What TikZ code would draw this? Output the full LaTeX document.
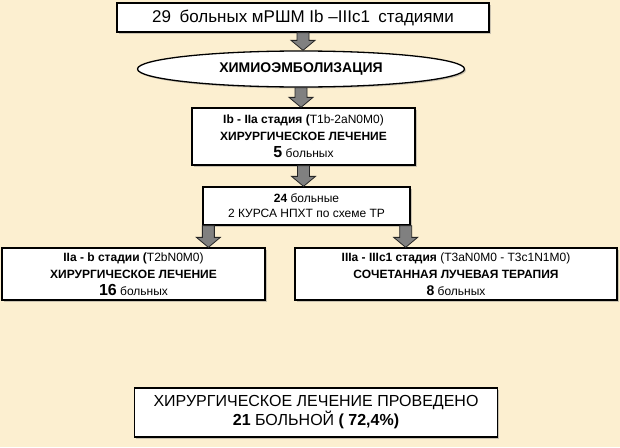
\documentclass[tikz,border=0pt]{standalone}
\usepackage{fontspec}
\setmainfont{Liberation Sans}
\usepackage{tikz}
\usetikzlibrary{calc,shapes.geometric,shadows}

\definecolor{paper}{RGB}{252,239,208}
\definecolor{arrgrey}{RGB}{128,128,128}

% block arrow going down from #1 to the level of #2
\newcommand\downarr[2]{%
  \draw[blockarr] let \p1=#1, \p2=#2 in
    (\x1-6pt,\y1) -- (\x1+6pt,\y1) -- (\x1+6pt,\y2+10pt) -- (\x1+12pt,\y2+10pt)
    -- (\x1,\y2) -- (\x1-12pt,\y2+10pt) -- (\x1-6pt,\y2+10pt) -- cycle;}

\begin{document}
\begin{tikzpicture}[x=1pt, y=-1pt,
  box/.style={draw, line width=1.3pt, fill=white, align=center, inner sep=0pt,
    drop shadow={shadow xshift=1.5pt, shadow yshift=-1.5pt, opacity=.4}},
  ell/.style={box, ellipse},
  blockarr/.style={draw=black!85, fill=arrgrey, line width=.8pt}]
\fill[paper] (0,0) rectangle (620,447);
\useasboundingbox (0,0) rectangle (620,447);

\node[box, minimum width=372pt, minimum height=29pt, font=\fontsize{17}{20}\selectfont]
  (start) at (303,17.5) {29\enspace больных мРШМ Ib –IIIc1\enspace стадиями};
\node[ell, minimum width=327pt, minimum height=36pt, font=\fontsize{14}{16}\selectfont\bfseries]
  (chemo) at (301,69) {ХИМИОЭМБОЛИЗАЦИЯ};
\node[box, minimum width=223pt, minimum height=57pt, font=\fontsize{12}{17}\selectfont]
  (stage1) at (303.5,136.5) {\textbf{Ib - IIa стадия (}T1b-2aN0M0)\\
  \textbf{ХИРУРГИЧЕСКОЕ ЛЕЧЕНИЕ}\\
  {\fontsize{16}{18}\selectfont\bfseries 5} больных};
\node[box, minimum width=207pt, minimum height=38pt, font=\fontsize{12}{15}\selectfont]
  (neo) at (306.5,206) {\textbf{24} больные\\2 КУРСА НПХТ по схеме ТР};
\node[box, minimum width=263pt, minimum height=52pt, font=\fontsize{12}{17}\selectfont]
  (surg) at (133.5,274) {\textbf{IIa - b стадии (}T2bN0M0)\\
  \textbf{ХИРУРГИЧЕСКОЕ ЛЕЧЕНИЕ}\\
  {\fontsize{16}{18}\selectfont\bfseries 16} больных};
\node[box, minimum width=322pt, minimum height=52pt, font=\fontsize{12}{17}\selectfont]
  (ray) at (456,274) {\textbf{IIIa - IIIc1 стадия} (T3aN0M0 - T3c1N1M0)\\
  \textbf{СОЧЕТАННАЯ ЛУЧЕВАЯ ТЕРАПИЯ}\\
  {\fontsize{14}{16}\selectfont\bfseries 8} больных};
\node[box, minimum width=363pt, minimum height=49pt, font=\fontsize{16}{19}\selectfont]
  (total) at (316,412.5) {ХИРУРГИЧЕСКОЕ ЛЕЧЕНИЕ ПРОВЕДЕНО\\
  \textbf{21} БОЛЬНОЙ \textbf{( 72,4\%)}};

\downarr{(start.south)}{(chemo.north)}
\downarr{(chemo.south)}{(stage1.north)}
\downarr{(stage1.south)}{(neo.north)}
\downarr{($(neo.south west)+(6,0)$)}{(surg.north)}
\downarr{($(neo.south east)+(-5,0)$)}{(ray.north)}
\end{tikzpicture}
\end{document}
